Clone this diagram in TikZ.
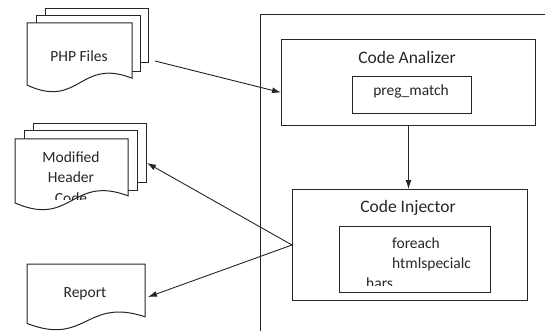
\documentclass[tikz,border=0pt]{standalone}
\usepackage{fontspec}
\setmainfont{Carlito}
\usetikzlibrary{arrows.meta}
\tikzset{
	frame/.style={draw=black!85,line width=1pt},
	page/.style={draw=black!85,line width=1pt,fill=white},
	box/.style={draw=black!85,line width=1pt,anchor=north west,inner sep=0pt},
	lbl/.style={font=\fontsize{15.5}{19}\selectfont,text=black!85,inner sep=0pt},
	title/.style={font=\fontsize{17.5}{21}\selectfont,text=black!85,inner sep=0pt},
	link/.style={-{Latex[length=9pt,width=6pt]},line width=0.9pt,draw=black!85},
}
% document page with a wavy bottom: x, y, width, height
\newcommand{\docpath}[4]{(#1,#2) -- (#1+#3,#2) -- (#1+#3,#2+0.8*#4) .. controls (#1+0.5*#3,#2+0.5*#4) and (#1+0.5*#3,#2+1.25*#4) .. (#1,#2+0.9*#4) -- cycle}

\begin{document}
\begin{tikzpicture}[x=1pt,y=-1pt]
		\useasboundingbox (0,0) rectangle (545,331);
		\draw[frame] (545,15) -- (260,15) -- (260,331);
		% PHP files
		\draw[page] (45,9) rectangle (148,63);
		\draw[page] (36,16) rectangle (140,72);
		\draw[page] \docpath{27}{23}{105}{69};
		\node[lbl,anchor=base] (php) at (79,62) {PHP Files};
		\coordinate (phpout) at (155,61);
		% modified header code
		\draw[page] (33,124) rectangle (146,182);
		\draw[page] (24,131) rectangle (137,190);
		\draw[page] \docpath{15}{139}{113}{71};
		\begin{scope}
			\clip (16,140) rectangle (127,199);
			\node[lbl,anchor=base] (modA) at (71,162) {Modified};
			\node[lbl,anchor=base] (modB) at (71,182) {Header};
			\node[lbl,anchor=base] (modC) at (71,203) {Code};
		\end{scope}
		\coordinate (modin) at (147,163);
		% report
		\draw[page] \docpath{27}{264}{118}{66};
		\node[lbl,anchor=base] (rep) at (85,297) {Report};
		\coordinate (repin) at (148,297);
		% code analizer
		\node[box,minimum width=254pt,minimum height=86pt] (ana) at (281,39) {};
		\node[title,anchor=base] (anatitle) at (407,64) {Code Analizer};
		\node[box,minimum width=119pt,minimum height=37pt] (preg) at (352,76) {};
		\node[lbl,anchor=base] (pregtxt) at (411,96) {preg\_match};
		% code injector
		\node[box,minimum width=235pt,minimum height=111pt] (inj) at (292,189) {};
		\node[title,anchor=base] (injtitle) at (408,212) {Code Injector};
		\node[box,minimum width=151pt,minimum height=66pt] (fn) at (339,226) {};
		\begin{scope}
			\clip (340,227) rectangle (489,285);
			\node[lbl,anchor=base west] (fnA) at (392,248) {foreach};
			\node[lbl,anchor=base west] (fnB) at (392,268) {htmlspecialc};
			\node[lbl,anchor=base west] (fnC) at (366,288) {hars};
		\end{scope}
		% links
		\draw[link] (phpout) -- ([yshift=-10pt]ana.west);
		\draw[link] (ana.south) -- (ana.south |- inj.north);
		\draw[link] (inj.west) -- (modin);
		\draw[link] (inj.west) -- (repin);
\end{tikzpicture}
\end{document}
